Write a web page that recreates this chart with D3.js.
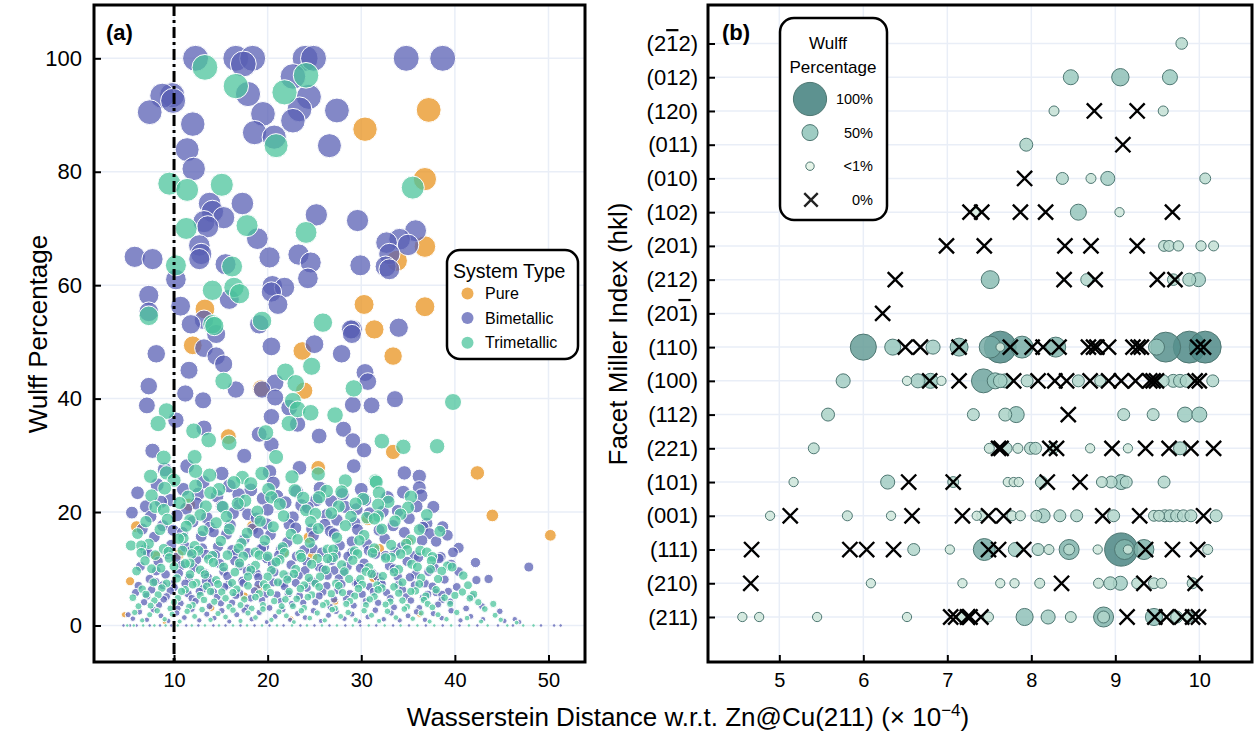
<!DOCTYPE html>
<html>
<head>
<meta charset="utf-8">
<script src="https://cdn.jsdelivr.net/npm/d3@7"></script>
<style>
  body { margin: 0; background: #fff; }
  svg { font-family: "Liberation Sans", Arial, Helvetica, sans-serif; }
</style>
</head>
<body>
<svg id="chart" width="1255" height="733"></svg>
<script>
'use strict';

// ---------- Panel (a) data: [Wasserstein distance (x1e-4), Wulff %] ----------
var systemTypes = ['Pure', 'Bimetallic', 'Trimetallic'];

var pure = [
	[30.4,87.5],[37.2,90.9],[36.8,78.7],[36.8,66.8],[33.8,64.3],[30.3,56.6],[36.8,56.2],[31.4,52.2],
	[13.3,55.8],[12.0,49.4],[23.7,48.4],[33.4,47.5],[23.9,41.4],[19.3,41.8],[15.8,33.3],[25.4,27.8],
	[33.4,30.6],[42.4,26.9],[44.0,19.4],[50.2,15.9],[6.0,17.4],[5.3,7.8],[4.7,1.9],
	[11.6,21.3],[18.4,17.5],[21.7,12.9],[24.4,15.5],[30.7,18.7],[31.3,8.4],[31.9,13.5],[17.5,5.2],
	[10.5,12.5],[8.1,12.2],[35.0,14.7],[24.8,12.1],[19.0,6.5],[27.2,4.2],[14.0,3.1],[36.2,2.0],
	[22.5,1.2],[9.0,0.6]
];

var bimetallic = [
	[12.3,100],[17.4,99],[16.6,100],[18.4,100],[17.9,93.7],[8.75,93.4],[9.9,92.5],[9.8,93.5],[7.4,90.5],
	[12.0,88.4],[19.5,90.2],[18.6,86.9],[20.7,86.1],[22.7,96.8],[24.0,100],[24.9,100],[24.4,93.2],
	[23.4,91],[22.7,89],[27.4,90.8],[26.6,84.6],[34.8,100],[38.7,100],[11.4,83.9],[12.1,80.5],
	[13.8,74.4],[14.1,73],[17.3,74.4],[15.3,71.9],[13.2,71.2],[13.6,70.3],[18.9,68.2],[25.2,72.4],
	[29.6,71.4],[12.7,67],[12.9,65.5],[12.7,64.6],[5.8,65],[7.7,64.6],[10.2,61],[15.5,63.7],
	[20.2,64.9],[23.3,65.4],[24.6,64],[24.3,61.2],[29.9,63.5],[32.7,67.5],[32.6,63.3],[35.8,69.6],
	[35.0,67.1],[34.1,68.1],[33.0,65.5],[33.0,62.8],[15.9,57.5],[20.5,59.9],[21.8,59.6],[20.4,58.8],
	[21.1,56.6],[7.3,58.2],[7.3,55.3],[10.7,56.3],[13.2,53.9],[11.8,53.1],[19.1,53.1],[29.1,52.2],
	[34.0,52.5],[28.9,52.2],[14.5,51.4],[29.0,51.4],[13.2,48.9],[8.1,47.9],[14.5,47.5],[15.3,46.1],
	[20.4,49.2],[25.0,49.6],[27.9,47.9],[11.6,45],[16.6,41.6],[7.3,42.2],[11.2,40.9],[13.1,39.7],
	[19.4,41.6],[20.8,42.8],[20.8,40.2],[22.3,38.4],[20.4,36.8],[23.2,35.5],[19.1,33.7],[20.4,31.9],
	[17.5,29.9],[20.2,27.1],[23.4,27.8],[25.5,33.4],[28.1,34.6],[29.1,38.9],[29.1,32.6],[30.3,30.9],
	[29.2,28.1],[30.4,44.6],[30.7,43],[31.1,38.8],[7.1,38.8],[10.2,36.2],[13.2,34.8],[7.7,30.8],
	[9.0,27.5],[11.4,28.1],[15.1,26.8],[6.1,23.4],[5.5,19.9],[33.6,39.9],[34.6,26.9],[36.2,26.3],
	[36.2,24.3],[34.5,23.5],[36.4,22.9],[35.9,21],[37.7,20.9],[30.4,22.1],[38.7,17.4],[37.0,18],
	[37.3,16.2],[36.5,15],[40.4,13.7],[38.5,12.1],[39.6,10.8],[40.4,9.5],[42.2,11.1],[42.3,8.0],
	[43.6,8.2],[47.9,10.3],[39.5,4.2],[41.2,3.0],[38.0,5.8],[38.6,5.5],[46.4,1.1],[46.9,0.6],[5.1,1.9],
	// dense cloud
	[8.2,24.8],[9.6,22.1],[11.0,24.0],[12.4,21.5],[13.1,25.3],[14.6,22.8],[15.9,24.6],[17.0,21.2],
	[18.2,23.9],[19.5,22.4],[20.6,25.1],[21.9,21.7],[23.1,23.6],[24.3,20.8],[25.6,24.2],[26.8,21.9],
	[28.0,23.1],[29.5,20.5],[32.8,22.6],[33.9,20.2],[7.0,21.0],[10.3,19.4],[16.3,19.8],[22.7,19.1],
	[27.4,18.6],[12.0,18.3],[18.8,18.9],
	[7.5,19.2],[8.6,21.8],[9.9,16.8],[11.3,20.6],[12.6,23.2],[13.5,19.0],[14.2,16.5],[15.1,21.0],
	[16.9,23.1],[17.9,19.6],[19.0,16.3],[20.0,20.4],[21.0,22.8],[22.3,17.8],[23.6,21.2],[24.7,17.0],
	[25.2,22.1],[26.3,19.5],[27.1,16.2],[28.3,20.9],[29.3,18.1],[30.0,24.0],[30.9,19.8],[31.9,16.8],
	[32.3,20.1],[33.4,17.6],[35.1,18.9],[36.6,17.3],[38.0,14.8],[39.2,15.9],
	[6.6,17.0],[7.9,15.6],[8.8,17.6],[9.7,14.2],[10.9,16.4],[11.8,13.1],[12.9,15.7],[13.8,17.3],
	[14.7,13.9],[15.6,16.1],[16.6,12.7],[17.5,15.2],[18.4,17.0],[19.3,13.5],[20.3,16.0],[21.2,12.4],
	[22.1,14.7],[23.0,17.2],[23.9,13.3],[24.9,15.8],[25.8,12.9],[26.7,16.6],[27.7,14.1],[28.6,12.2],
	[29.6,16.9],[30.6,14.4],[31.5,12.6],[32.5,15.3],[33.6,13.0],[34.6,16.4],[35.7,12.3],[7.2,12.8],
	[10.2,12.0],[13.4,12.5],[16.0,17.7],[19.9,17.9],[26.1,17.8],[29.0,14.8],
	[6.9,13.4],[8.1,9.6],[9.3,12.6],[10.5,9.2],[11.2,13.9],[12.1,10.2],[13.0,13.6],[13.6,8.5],
	[14.4,12.4],[15.3,9.5],[16.2,13.3],[17.0,10.5],[17.9,12.8],[18.8,9.2],[19.6,13.9],[20.5,10.8],
	[21.4,13.4],[22.2,8.6],[23.1,12.2],[24.0,9.7],[24.8,13.6],[25.5,10.3],[26.4,8.8],[27.3,12.5],
	[28.1,9.3],[29.0,12.9],[29.9,10.1],[30.8,13.2],[31.7,8.6],[32.6,12.3],[33.5,10.0],[34.3,13.8],
	[35.2,8.5],[36.1,12.0],[37.2,9.5],[38.3,11.8],[39.8,12.9],
	[6.4,10.4],[7.4,8.2],[8.3,11.3],[9.1,9.0],[9.9,7.3],[10.8,10.6],[11.6,8.4],[12.4,11.6],[13.2,9.3],
	[14.0,7.6],[14.9,10.9],[15.7,8.7],[16.5,11.4],[17.3,7.9],[18.2,10.1],[19.0,8.5],[19.9,11.8],
	[20.7,9.4],[21.6,7.4],[22.5,10.7],[23.3,8.8],[24.2,11.2],[25.0,7.7],[25.9,9.9],[26.8,11.5],
	[27.6,8.3],[28.5,10.4],[29.4,7.5],[30.3,11.0],[31.2,9.2],[32.1,7.8],[33.0,10.5],[33.9,8.6],
	[34.9,11.3],[35.8,9.0],[36.8,7.4],[37.8,10.2],[38.9,8.1],[8.8,7.1],[17.8,9.6],[27.1,9.7],
	[6.2,7.0],[7.1,5.2],[8.0,7.7],[8.9,4.6],[9.6,6.1],[10.4,3.0],[11.2,7.4],[11.9,4.8],[12.7,6.0],
	[13.4,7.8],[14.2,5.9],[15.0,3.9],[15.8,7.2],[16.6,5.3],[17.4,7.5],[18.2,4.8],[19.0,7.2],[19.8,5.5],
	[20.6,7.6],[21.4,4.3],[22.2,5.6],[23.0,7.5],[23.8,4.0],[24.6,7.8],[25.5,5.2],[26.3,7.0],[27.1,4.6],
	[27.9,7.3],[28.8,5.6],[29.6,7.4],[30.5,4.3],[31.3,6.0],[32.2,7.3],[33.1,4.8],[34.0,7.2],[34.8,5.1],
	[35.7,7.1],[36.6,4.9],[37.6,6.9],[38.6,4.5],[40.2,6.8],[41.8,5.1],
	[5.9,5.8],[6.8,4.1],[7.6,6.3],[8.4,3.6],[9.2,5.1],[10.0,6.7],[10.7,3.9],[11.5,5.6],[12.3,4.3],
	[13.1,6.5],[13.8,3.4],[14.6,5.0],[15.4,6.8],[16.2,4.0],[17.0,5.7],[17.8,3.2],[18.6,6.1],[19.4,4.5],
	[20.2,3.1],[21.0,5.4],[21.8,6.9],[22.6,3.8],[23.4,5.2],[24.2,6.6],[25.1,4.1],[25.9,5.9],[26.7,3.3],
	[27.5,6.2],[28.4,4.7],[29.2,3.5],[30.1,5.5],[30.9,6.8],[31.8,4.0],[32.7,5.8],[33.5,3.2],[34.4,6.3],
	[35.3,4.4],[36.2,3.1],[37.1,5.5],[38.2,3.7],[39.3,6.0],[42.9,3.4],[44.8,2.5],
	[5.6,1.2],[6.3,2.4],[7.1,1.0],[7.8,2.8],[8.6,1.7],[9.4,0.8],[10.3,2.2],[11.1,1.4],[11.9,2.9],
	[12.7,0.9],[13.5,2.0],[14.3,1.3],[15.1,2.6],[15.9,0.7],[16.7,1.9],[17.5,2.7],[18.3,1.1],[19.1,2.3],
	[19.9,0.6],[20.8,1.6],[21.6,2.8],[22.4,1.0],[23.2,2.1],[24.0,1.4],[24.9,2.6],[25.7,0.8],[26.5,1.8],
	[27.3,2.5],[28.2,1.2],[29.0,2.0],[29.8,0.7],[30.7,1.5],[31.5,2.7],[32.4,1.1],[33.2,2.2],[34.1,0.9],
	[35.0,1.7],[35.9,2.4],[36.8,1.0],[37.7,2.1],[38.6,1.3],[39.6,2.6],[40.6,0.9],[41.7,1.6],[43.0,1.1],
	[45.3,0.8],
	[4.6,0],[5.3,0],[6.0,0],[7.4,0],[8.5,0],[9.7,0],[11.3,0],[12.6,0],[14.2,0],[15.5,0],[17.1,0],
	[18.6,0],[20.2,0],[21.7,0],[23.5,0],[25.0,0],[26.6,0],[28.3,0],[29.9,0],[31.6,0],[33.4,0],[35.1,0],
	[36.9,0],[38.7,0],[40.5,0],[42.4,0],[44.6,0],[46.2,0],[49.2,0],[50.6,0],[51.3,0]
];

var trimetallic = [
	[13.3,98.4],[16.6,95.1],[20.9,84.6],[21.8,94],[24.1,97],[35.5,77.2],[9.5,77.9],[11.4,76.8],
	[15.1,77.7],[11.3,70],[17.8,70.5],[24.1,69.3],[10.2,63.5],[16.2,63.3],[14.1,59.1],[16.4,59.6],
	[17.0,58.5],[7.3,54.6],[14.1,53.1],[19.4,53.7],[25.9,53.4],[14.3,52.8],[15.3,43.1],[21.9,44.7],
	[23.0,42.7],[24.7,45.7],[22.7,39.6],[23.2,38.1],[24.6,37.5],[22.3,35.6],[19.8,34.0],[20.9,29.7],
	[25.4,26.7],[27.2,37.1],[29.2,41.8],[32.2,32.5],[31.5,25.5],[9.2,37.8],[8.3,35.6],[12.1,34.3],
	[13.7,32.7],[15.9,32.2],[8.9,29.6],[9.2,26.9],[7.5,26.3],[12.2,29.7],[12.3,27.2],[13.8,26.5],
	[17.3,26.1],[5.4,14.1],[6.5,14.1],[5.6,4.9],[39.8,39.4],[34.5,31.5],[38.1,31.6],[31.6,25.3],
	[35.3,22.7],[31.8,21.3],[31.8,19.3],[39.2,10.5],[41.4,7.1],[41.6,4.8],[44.1,3.8],[44.3,1.8],
	[40.0,5.3],[37.4,9.9],[36.9,5.2],
	// dense cloud
	[7.6,22.9],[8.9,20.4],[10.0,25.6],[11.5,22.7],[12.8,19.5],[13.9,23.4],[15.2,20.9],[16.4,25.2],
	[17.6,22.0],[18.9,20.1],[20.1,24.0],[21.3,21.4],[22.6,26.2],[23.8,22.5],[25.1,19.7],[26.3,23.7],
	[27.6,21.0],[28.9,19.2],[30.2,22.3],[31.4,18.8],[32.9,21.8],[34.2,19.6],[9.3,18.7],[14.5,18.1],
	[24.6,18.3],[19.4,26.8],[28.3,25.5],
	[7.0,18.3],[8.0,20.9],[9.0,24.2],[10.6,21.6],[11.7,18.6],[12.3,24.6],[13.4,21.0],[14.8,24.0],
	[15.6,19.2],[16.8,21.5],[18.2,25.0],[19.2,18.4],[20.4,22.6],[21.7,19.3],[22.9,23.8],[24.1,20.3],
	[25.5,22.6],[26.8,19.8],[27.9,23.6],[29.4,21.5],[30.6,19.0],[31.9,23.4],[33.6,18.4],[35.0,20.8],
	[36.2,16.9],[37.0,19.5],[38.4,16.6],[11.0,15.4],[17.2,14.5],[23.2,15.2],[29.8,15.0],[34.8,14.4],
	[6.1,16.2],[7.3,14.4],[8.5,16.9],[9.4,13.0],[10.5,15.3],[11.3,17.5],[12.2,14.0],[13.1,16.7],
	[14.1,12.3],[15.0,14.9],[15.9,17.0],[16.9,13.6],[17.8,16.3],[18.7,12.9],[19.7,15.0],[20.6,17.4],
	[21.6,13.8],[22.5,16.1],[23.5,12.5],[24.5,14.6],[25.4,17.1],[26.4,13.4],[27.4,15.5],[28.3,17.6],
	[29.3,13.1],[30.3,15.9],[31.2,12.8],[32.2,17.0],[33.2,14.2],[34.2,12.6],[35.3,15.1],[36.3,13.2],
	[37.6,12.1],[8.0,12.4],[11.9,12.6],[20.0,12.2],[27.0,12.0],
	[6.5,12.8],[7.6,10.0],[8.9,13.5],[10.0,10.4],[10.9,13.2],[11.7,11.0],[12.6,13.2],[13.3,9.0],
	[14.2,11.1],[15.7,12.4],[16.5,9.4],[17.4,12.2],[18.2,9.8],[19.1,12.4],[20.0,8.6],[20.9,11.2],
	[21.8,12.8],[22.8,9.1],[23.6,12.0],[24.4,8.4],[25.3,11.8],[26.2,9.8],[27.0,13.4],[27.9,10.7],
	[28.7,8.2],[29.6,12.6],[30.5,9.5],[31.4,13.6],[32.3,8.7],[33.2,12.0],[34.0,9.9],[34.9,13.3],
	[36.0,10.3],[37.0,12.9],[38.2,8.2],[39.7,10.3],
	[6.0,9.6],[6.9,11.4],[7.8,7.6],[8.6,10.1],[9.5,11.9],[10.3,8.3],[11.2,10.9],[12.0,7.2],[12.8,9.8],
	[13.7,11.7],[14.5,8.0],[15.3,10.3],[16.2,7.5],[17.0,11.0],[17.9,8.6],[18.7,10.6],[19.6,7.3],
	[20.4,9.7],[21.3,11.6],[22.1,8.1],[23.0,9.9],[23.9,7.1],[24.7,10.8],[25.6,8.6],[26.4,11.8],
	[27.3,7.4],[28.2,9.5],[29.1,11.5],[29.9,8.2],[30.8,10.2],[31.7,7.1],[32.6,11.9],[33.5,9.4],
	[34.4,7.6],[35.4,10.8],[36.4,8.4],[37.5,11.4],[38.6,9.6],[40.9,8.8],[11.7,9.0],[21.7,9.0],[31.1,9.1],
	[6.6,6.4],[7.5,3.5],[8.3,5.4],[9.2,7.4],[10.0,4.1],[10.8,6.0],[11.6,3.3],[12.4,7.5],[13.2,4.5],
	[13.9,6.0],[14.7,7.3],[15.5,4.8],[16.3,5.8],[17.1,3.6],[17.9,7.0],[18.7,5.0],[19.5,3.6],[20.3,5.8],
	[21.1,7.6],[21.9,4.6],[22.7,3.4],[23.5,6.5],[24.3,5.0],[25.1,7.4],[25.9,3.6],[26.8,5.6],[27.6,7.0],
	[28.4,3.8],[29.3,5.2],[30.1,7.2],[30.9,4.6],[31.8,6.3],[32.6,3.7],[33.5,6.8],[34.4,4.4],[35.3,6.0],
	[36.2,7.3],[37.1,3.8],[38.0,6.3],[39.5,3.8],[40.8,5.9],[42.5,4.1],
	[6.2,3.4],[7.0,5.5],[7.9,4.4],[8.7,6.6],[9.6,3.0],[10.4,4.8],[11.2,6.3],[12.0,3.6],[12.8,5.3],
	[13.5,6.9],[14.3,4.2],[15.1,5.9],[15.9,3.3],[16.7,6.4],[17.5,4.6],[18.3,3.0],[19.1,5.6],[19.9,6.7],
	[20.7,4.3],[21.5,3.4],[22.3,6.0],[23.1,4.7],[23.9,3.1],[24.7,5.4],[25.5,6.8],[26.3,4.0],[27.2,3.0],
	[28.0,5.8],[28.8,4.3],[29.7,6.5],[30.5,3.6],[31.4,5.1],[32.2,6.6],[33.1,4.2],[34.0,5.7],[34.9,3.3],
	[35.8,6.1],[36.7,4.5],[37.6,3.2],[38.9,4.9],[42.0,5.5],[43.2,2.9],
	[5.8,2.3],[6.6,0.9],[7.4,1.9],[8.2,2.6],[9.0,1.1],[9.8,2.0],[10.6,0.7],[11.4,2.5],[12.2,1.6],
	[13.0,2.8],[13.9,1.0],[14.7,2.1],[15.5,1.5],[16.3,2.7],[17.1,0.8],[17.9,2.2],[18.7,1.4],[19.5,2.9],
	[20.4,1.0],[21.2,2.4],[22.0,1.7],[22.8,0.6],[23.6,2.6],[24.5,1.3],[25.3,2.2],[26.1,0.9],[26.9,2.8],
	[27.8,1.6],[28.6,2.3],[29.4,1.0],[30.3,2.6],[31.1,1.8],[31.9,0.8],[32.8,2.5],[33.7,1.4],[34.6,2.9],
	[35.5,1.2],[36.4,2.2],[37.3,0.7],[38.2,1.9],[39.1,1.1],[40.2,2.3],[41.3,1.3],[42.8,0.7],[44.9,1.0],
	[46.6,0.5],
	[5.0,0],[5.7,0],[6.7,0],[7.9,0],[9.1,0],[10.4,0],[11.9,0],[13.3,0],[14.8,0],[16.3,0],[17.8,0],
	[19.4,0],[21.0,0],[22.6,0],[24.2,0],[25.8,0],[27.4,0],[29.1,0],[30.8,0],[32.5,0],[34.2,0],[36.0,0],
	[37.8,0],[39.6,0],[41.5,0],[43.5,0],[45.6,0],[47.3,0],[48.4,0]
];

var xTicksA = [10, 20, 30, 40, 50];
var yTicksA = [0, 20, 40, 60, 80, 100];
var cutoff = 10;

// ---------- Panel (b) data: facet -> [[distance, Wulff %], ...]  (0% drawn as X) ----------
var facets = ['(21\u03052)', '(012)', '(120)', '(011)', '(010)', '(102)', '(201)', '(212)', '(201\u0305)',
	'(110)', '(100)', '(112)', '(221)', '(101)', '(001)', '(111)', '(210)', '(211)'];

var facetPoints = [
	[[9.79,30]],
	[[8.47,46],[9.06,55],[9.65,46]],
	[[8.27,20],[8.75,0],[9.26,0],[9.57,20]],
	[[7.94,37],[9.09,0]],
	[[7.92,0],[8.37,32],[8.71,20],[8.91,42],[10.07,26]],
	[[7.27,0],[7.33,8],[7.41,0],[7.87,0],[8.17,0],[8.56,50],[9.05,14],[9.68,0]],
	[[6.99,0],[7.44,0],[8.40,0],[8.71,0],[9.26,0],[9.58,26],[9.64,26],[9.75,22],[10.02,22],[10.17,20]],
	[[6.38,0],[7.51,57],[8.39,0],[8.66,32],[8.76,0],[9.50,0],[9.69,30],[9.71,0],[9.88,37],[9.99,42]],
	[[6.23,0]],
	[[6.00,82],[6.35,50],[6.50,0],[6.68,0],[6.83,42],[7.14,57],[7.14,0],[7.51,70],[7.63,97],[7.63,5],
	 [7.75,0],[7.89,70],[8.01,0],[8.14,0],[8.29,64],[8.33,0],[8.68,0],[8.74,0],[8.78,0],[8.92,0],
	 [9.21,0],[9.27,0],[9.31,0],[9.49,50],[9.60,92],[9.88,97],[10.07,97],[9.98,0],[10.05,0]],
	[[5.76,42],[6.52,14],[6.65,42],[6.80,46],[6.79,0],[6.93,14],[7.14,0],[7.43,76],[7.57,50],[7.63,40],
	 [7.69,42],[7.79,0],[7.95,32],[8.08,0],[8.28,0],[8.42,0],[8.56,32],[8.70,0],[8.82,26],[8.92,0],
	 [9.07,0],[9.24,0],[9.41,0],[9.45,0],[9.49,0],[9.57,32],[9.69,37],[9.77,37],[9.85,37],[9.95,0],
	 [10.00,0],[10.16,32]],
	[[5.58,37],[7.31,32],[7.69,37],[7.82,50],[8.44,0],[9.10,32],[9.45,32],[9.83,46],[10.00,46]],
	[[5.41,26],[7.50,20],[7.61,0],[7.64,0],[7.70,32],[7.84,20],[7.99,32],[8.05,32],[8.22,0],[8.30,0],
	 [8.26,26],[8.70,14],[8.96,0],[9.15,14],[9.36,0],[9.64,0],[9.77,37],[9.90,0],[10.17,0]],
	[[5.17,14],[6.29,42],[6.54,0],[7.07,0],[7.07,26],[7.72,14],[7.79,14],[7.85,14],[8.12,32],[8.19,0],
	 [8.58,0],[8.84,26],[8.95,32],[9.07,46],[9.13,32],[9.58,32]],
	[[4.89,14],[5.13,0],[5.81,20],[6.33,14],[6.58,0],[7.18,0],[7.35,14],[7.41,20],[7.49,0],[7.67,0],
	 [7.77,20],[7.87,20],[8.06,26],[8.14,42],[8.34,32],[8.54,32],[8.85,0],[8.98,32],[9.29,0],[9.46,26],
	 [9.52,26],[9.59,32],[9.65,32],[9.73,32],[9.81,32],[9.90,32],[10.05,0],[10.20,32]],
	[[4.67,0],[5.84,0],[6.04,0],[6.36,0],[6.60,32],[7.03,14],[7.44,70],[7.49,0],[7.61,0],[7.81,42],
	 [7.91,0],[8.08,32],[8.21,20],[8.45,64],[8.45,26],[8.79,14],[9.07,100],[9.11,64],[9.15,14],[9.34,64],
	 [9.36,0],[9.68,0],[9.98,0],[10.10,20]],
	[[4.66,0],[6.09,14],[7.18,14],[7.63,14],[7.80,14],[8.10,20],[8.36,0],[8.80,20],[8.94,37],[9.06,42],
	 [9.26,26],[9.34,0],[9.46,26],[9.55,20],[9.92,26],[9.95,0]],
	[[4.56,14],[4.76,14],[5.45,14],[6.52,14],[7.04,0],[7.10,0],[7.18,20],[7.24,0],[7.27,0],[7.40,0],
	 [7.49,20],[7.92,54],[8.20,42],[8.47,26],[8.86,64],[8.86,32],[9.14,0],[9.46,54],[9.47,0],[9.61,0],
	 [9.73,32],[9.79,0],[9.92,0],[9.99,0],[9.87,26]]
];

var xTicksB = [5, 6, 7, 8, 9, 10];
var legendBValues = [100, 50, 0.5, 0];
var legendBLabels = ['100%', '50%', '<1%', '0%'];

// ---------- Layout ----------
var svg = d3.select('#chart');
var A = {left: 94, top: 5, right: 585, bottom: 662};
var B = {left: 708, top: 5, right: 1252, bottom: 662};
var gridColor = '#e9eef7';

var xa = d3.scaleLinear().domain([1.45, 53.9]).range([A.left, A.right]);
var ya = d3.scaleLinear().domain([-6.44, 109.4]).range([A.bottom, A.top]);
var ra = d3.scalePow().exponent(0.55).domain([0, 100]).range([1.8, 13]);
var colorA = d3.scaleOrdinal().domain(systemTypes).range(['#e8931f', '#5a60b4', '#4cc49c']);

var xb = d3.scaleLinear().domain([4.151, 10.627]).range([B.left, B.right]);
var yb = d3.scalePoint().domain(facets).range([B.top + 38.5, B.bottom - 45]);
var rb = d3.scalePow().exponent(1.7).domain([0, 100]).range([4.2, 16.6]);
var colorB = d3.scaleLinear().domain([0, 50, 100]).range(['#e4f3e6', '#95c6bc', '#4b8684']);

var defs = svg.append('defs');
[['clipA', A], ['clipB', B]].forEach(function(c) {
	defs.append('clipPath').attr('id', c[0]).append('rect')
		.attr('x', c[1].left).attr('y', c[1].top)
		.attr('width', c[1].right - c[1].left).attr('height', c[1].bottom - c[1].top);
});

function styleAxis(g, size) {
	g.attr('font-family', null).attr('font-size', size);
	g.select('.domain').remove();
	g.selectAll('.tick line').attr('stroke', '#000').attr('stroke-width', 2);
	g.selectAll('.tick text').attr('fill', '#000');
}

function grid(P, xs, ys, xTicks, yTicks) {
	var g = svg.append('g');
	g.selectAll('.gx').data(xTicks).enter().append('line')
		.attr('x1', function(d) { return xs(d); }).attr('x2', function(d) { return xs(d); })
		.attr('y1', P.top).attr('y2', P.bottom)
		.attr('stroke', gridColor).attr('stroke-width', 1.5);
	g.selectAll('.gy').data(yTicks).enter().append('line')
		.attr('y1', function(d) { return ys(d); }).attr('y2', function(d) { return ys(d); })
		.attr('x1', P.left).attr('x2', P.right)
		.attr('stroke', gridColor).attr('stroke-width', 1.5);
}

// ---------- Panel (a) ----------
grid(A, xa, ya, xTicksA, yTicksA);

var series = [pure, bimetallic, trimetallic];
var gA = svg.append('g').attr('clip-path', 'url(#clipA)');
series.forEach(function(pts, i) {
	var sorted = pts.slice().sort(function(a, b) { return b[1] - a[1]; });
	gA.append('g').selectAll('circle')
		.data(sorted)
		.enter().append('circle')
			.attr('cx', function(d) { return xa(d[0]); })
			.attr('cy', function(d) { return ya(d[1]); })
			.attr('r', function(d) { return ra(d[1]); })
			.attr('fill', colorA(systemTypes[i]))
			.attr('fill-opacity', 0.75)
			.attr('stroke', '#fff')
			.attr('stroke-width', 1);
});

// cutoff line
svg.append('line')
	.attr('x1', xa(cutoff)).attr('x2', xa(cutoff))
	.attr('y1', A.top).attr('y2', A.bottom)
	.attr('stroke', '#000').attr('stroke-width', 3)
	.attr('stroke-dasharray', '11,4,3,4');

var axXA = svg.append('g').attr('transform', 'translate(0,' + A.bottom + ')')
	.call(d3.axisBottom(xa).tickValues(xTicksA).tickSize(-7).tickPadding(11));
styleAxis(axXA, 20);
var axYA = svg.append('g').attr('transform', 'translate(' + A.left + ',0)')
	.call(d3.axisLeft(ya).tickValues(yTicksA).tickSize(-7).tickPadding(12));
styleAxis(axYA, 22);

// legend (a)
var legA = svg.append('g').attr('transform', 'translate(447,250)');
legA.append('rect').attr('width', 131).attr('height', 109).attr('rx', 13)
	.attr('fill', '#fff').attr('stroke', '#000').attr('stroke-width', 2.5);
legA.append('text').attr('x', 6).attr('y', 28).attr('font-size', 19.5).text('System Type');
systemTypes.forEach(function(t, i) {
	legA.append('circle').attr('cx', 20.5).attr('cy', 43.5 + i * 24.6).attr('r', 6)
		.attr('fill', colorA(t)).attr('fill-opacity', 0.75);
	legA.append('text').attr('x', 38).attr('y', 49 + i * 24.6).attr('font-size', 16).text(t);
});

svg.append('text').attr('x', 106).attr('y', 40).attr('font-size', 22).attr('font-weight', 'bold').text('(a)');

// ---------- Panel (b) ----------
grid(B, xb, yb, xTicksB, facets);

var xSym = d3.symbol().type(d3.symbolX).size(150);
var gB = svg.append('g').attr('clip-path', 'url(#clipB)');
var circles = [], crosses = [];
facetPoints.forEach(function(pts, i) {
	pts.forEach(function(p) {
		var d = {facet: facets[i], x: p[0], v: p[1]};
		if (p[1] > 0) circles.push(d); else crosses.push(d);
	});
});
circles.sort(function(a, b) { return b.v - a.v; });

gB.selectAll('circle')
	.data(circles)
	.enter().append('circle')
		.attr('cx', function(d) { return xb(d.x); })
		.attr('cy', function(d) { return yb(d.facet); })
		.attr('r', function(d) { return rb(d.v); })
		.attr('fill', function(d) { return colorB(d.v); })
		.attr('fill-opacity', 0.85)
		.attr('stroke', '#4e7772')
		.attr('stroke-width', 1);

gB.selectAll('path')
	.data(crosses)
	.enter().append('path')
		.attr('transform', function(d) { return 'translate(' + xb(d.x) + ',' + yb(d.facet) + ')'; })
		.attr('d', xSym)
		.attr('fill', 'none')
		.attr('stroke', '#000')
		.attr('stroke-width', 2.4);

var axXB = svg.append('g').attr('transform', 'translate(0,' + B.bottom + ')')
	.call(d3.axisBottom(xb).tickValues(xTicksB).tickFormat(d3.format('d')).tickSize(-7).tickPadding(11));
styleAxis(axXB, 20);
var axYB = svg.append('g').attr('transform', 'translate(' + B.left + ',0)')
	.call(d3.axisLeft(yb).tickSize(-7).tickPadding(10));
styleAxis(axYB, 22);

// overbar labels: character followed by U+0305 gets an overline
axYB.selectAll('.tick text').each(function(d) {
	var t = d3.select(this).text('');
	for (var i = 0; i < d.length; i++) {
		var ts = t.append('tspan').text(d[i]);
		if (d[i + 1] === '\u0305') {
			ts.style('text-decoration', 'overline');
			i++;
		}
	}
});

// legend (b)
var legB = svg.append('g').attr('transform', 'translate(780,18)');
legB.append('rect').attr('width', 107).attr('height', 202).attr('rx', 14)
	.attr('fill', '#fff').attr('stroke', '#000').attr('stroke-width', 2.5);
legB.append('text').attr('x', 48).attr('y', 31).attr('text-anchor', 'middle').attr('font-size', 17).text('Wulff');
legB.append('text').attr('x', 53).attr('y', 55).attr('text-anchor', 'middle').attr('font-size', 17).text('Percentage');
legendBValues.forEach(function(v, i) {
	var cy = 81 + i * 33.6;
	if (v > 0) {
		legB.append('circle').attr('cx', 30).attr('cy', cy).attr('r', rb(v))
			.attr('fill', colorB(v)).attr('fill-opacity', 0.9)
			.attr('stroke', '#4e7772').attr('stroke-width', 1);
	} else {
		legB.append('path').attr('transform', 'translate(31,' + cy + ')')
			.attr('d', d3.symbol().type(d3.symbolX).size(120))
			.attr('fill', 'none').attr('stroke', '#222').attr('stroke-width', 2.4);
	}
	legB.append('text').attr('x', 93).attr('y', cy + 5).attr('text-anchor', 'end')
		.attr('font-size', 14.5).text(legendBLabels[i]);
});

svg.append('text').attr('x', 722).attr('y', 40).attr('font-size', 22).attr('font-weight', 'bold').text('(b)');

// ---------- Frames ----------
[A, B].forEach(function(P) {
	svg.append('rect')
		.attr('x', P.left).attr('y', P.top)
		.attr('width', P.right - P.left).attr('height', P.bottom - P.top)
		.attr('fill', 'none').attr('stroke', '#000').attr('stroke-width', 3);
});

// ---------- Axis titles ----------
svg.append('text')
	.attr('transform', 'translate(47,334) rotate(-90)')
	.attr('text-anchor', 'middle').attr('font-size', 26)
	.text('Wulff Percentage');
svg.append('text')
	.attr('transform', 'translate(627,334) rotate(-90)')
	.attr('text-anchor', 'middle').attr('font-size', 26)
	.text('Facet Miller Index (hkl)');

var xt = svg.append('text').attr('x', 688).attr('y', 726)
	.attr('text-anchor', 'middle').attr('font-size', 26);
xt.append('tspan').text('Wasserstein Distance w.r.t. Zn@Cu(211) (\u00d7 10');
xt.append('tspan').attr('dy', -10).attr('font-size', 17).text('\u22124');
xt.append('tspan').attr('dy', 10).text(')');
</script>
</body>
</html>
